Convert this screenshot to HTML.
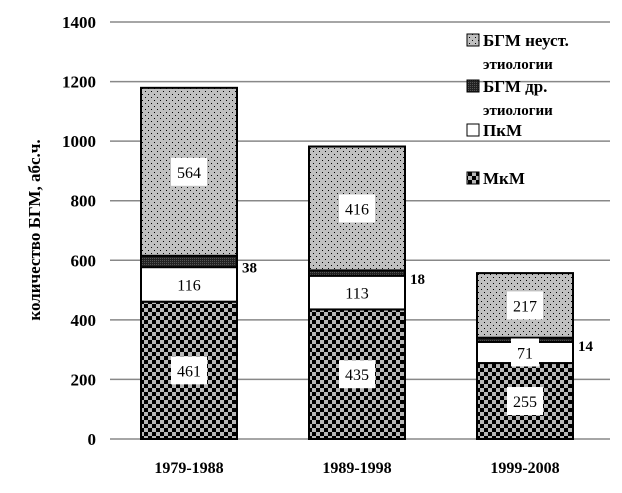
<!DOCTYPE html>
<html><head><meta charset="utf-8"><style>
html,body{margin:0;padding:0;background:#fff;}
svg text{font-family:"Liberation Serif","DejaVu Serif",serif;}
</style></head><body>
<svg id="chart" width="622" height="488" viewBox="0 0 622 488" xmlns="http://www.w3.org/2000/svg">
<defs>
<pattern id="pDots" width="6" height="6" patternUnits="userSpaceOnUse"><rect width="6" height="6" fill="#c0c0c0"/><rect x="1" y="1" width="1" height="1" fill="#000"/><rect x="4" y="4" width="1" height="1" fill="#000"/></pattern>
<pattern id="pDark" width="2" height="2" patternUnits="userSpaceOnUse"><rect width="2" height="2" fill="#222"/><rect width="1" height="1" fill="#555"/></pattern>
<pattern id="pCheck" width="8" height="8" patternUnits="userSpaceOnUse"><rect width="8" height="8" fill="#b8b8b8"/><rect width="4" height="4" fill="#000"/><rect x="4" y="4" width="4" height="4" fill="#000"/></pattern>
</defs>
<g id="grid"></g><g id="bars"></g><g id="labels"></g>
<text transform="translate(40,230) rotate(-90)" text-anchor="middle" font-size="17" font-weight="bold">количество БГМ, абс.ч.</text>
<g font-size="17" font-weight="bold">
<rect x="467" y="34" width="12" height="12" fill="url(#pDots)" stroke="#000"/><text x="483" y="46">БГМ неуст.</text><text x="483" y="69" font-size="15">этиологии</text>
<rect x="467" y="80" width="12" height="12" fill="url(#pDark)" stroke="#000"/><text x="483" y="92">БГМ др.</text><text x="483" y="115" font-size="15">этиологии</text>
<rect x="467" y="124" width="12" height="12" fill="#fff" stroke="#000"/><text x="483" y="136">ПкМ</text>
<rect x="467" y="172" width="12" height="12" fill="url(#pCheck)" stroke="#000"/><text x="483" y="184">МкМ</text>
</g>
</svg>
<script>
const categories=["1979-1988","1989-1998","1999-2008"];
const mkm=[461,435,255];
const pkm=[116,113,71];
const other=[38,18,14];
const unknown=[564,416,217];
const yTicks=[0,200,400,600,800,1000,1200,1400];
const NS="http://www.w3.org/2000/svg";
const y0=439,y1=22,yMax=1400;
const y=v=>y0-(v/yMax)*(y0-y1);
const x=i=>141+i*168;
const bw=96;
function el(t,a,p){const e=document.createElementNS(NS,t);for(const k in a)e.setAttribute(k,a[k]);p.appendChild(e);return e;}
const grid=document.getElementById('grid'),bars=document.getElementById('bars'),labels=document.getElementById('labels');
yTicks.forEach(t=>{
 const l=el('line',{x1:110,x2:610,y1:y(t),y2:y(t),stroke:'#888','stroke-width':1.5},grid);
 
 
 const tx=el('text',{x:96,y:y(t)+6,'text-anchor':'end','font-size':17,'font-weight':'bold'},grid);
 tx.textContent=t;
 
 
});
const series=[{d:mkm,f:'url(#pCheck)',n:'mkm',lab:'box'},{d:pkm,f:'#fff',n:'pkm',lab:'box'},{d:other,f:'url(#pDark)',n:'other',lab:'side'},{d:unknown,f:'url(#pDots)',n:'unknown',lab:'box'}];
categories.forEach((c,i)=>{
 let cum=0;
 series.forEach(s=>{
  const v=s.d[i];const top=y(cum+v),bot=y(cum);
  const r=el('rect',{x:x(i),y:top,width:bw,height:bot-top,fill:s.f,stroke:'#000','stroke-width':2},bars);
  
  
  if(s.lab==='box'){
   const cy=(top+bot)/2,w=String(v).length*8+12;
   const b=el('rect',{x:x(i)+bw/2-w/2,y:cy-14,width:w,height:28,fill:'#fff'},labels);
   
   
   const t=el('text',{x:x(i)+bw/2,y:cy+6,'text-anchor':'middle','font-size':16},labels);
   t.textContent=v;
   
   
  }else{
   const t=el('text',{x:x(i)+bw+5,y:(top+bot)/2+11,'font-size':15,'font-weight':'bold'},labels);
   t.textContent=v;
   
   
  }
  cum+=v;
 });
 const t=el('text',{x:x(i)+bw/2,y:473,'text-anchor':'middle','font-size':16,'font-weight':'bold'},labels);
 t.textContent=c;
 
 
});
</script>
</body></html>
